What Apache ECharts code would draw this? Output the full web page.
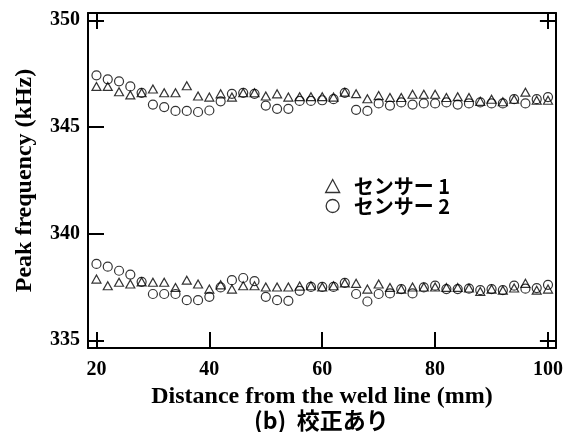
<!DOCTYPE html>
<html>
<head>
<meta charset="utf-8">
<script src="https://cdn.jsdelivr.net/npm/echarts@6/dist/echarts.min.js"></script>
<style>
  html, body { margin: 0; padding: 0; background: #fff; }
  #chart { width: 566px; height: 432px; }
</style>
</head>
<body>
<div id="chart"></div>
<script>
// Distance from the weld line (mm)
const distance = [20, 22, 24, 26, 28, 30, 32, 34, 36, 38, 40, 42, 44, 46, 48, 50, 52, 54, 56, 58,
  60, 62, 64, 66, 68, 70, 72, 74, 76, 78, 80, 82, 84, 86, 88, 90, 92, 94, 96, 98, 100];

// Sensor 1, upper and lower peak frequency (kHz)
const sensor1Upper = [346.90, 346.90, 346.65, 346.50, 346.60, 346.78, 346.60, 346.60, 346.93, 346.45,
  346.40, 346.55, 346.40, 346.60, 346.60, 346.45, 346.55, 346.40, 346.42, 346.42,
  346.42, 346.40, 346.63, 346.56, 346.32, 346.47, 346.38, 346.38, 346.53, 346.53,
  346.53, 346.38, 346.42, 346.38, 346.20, 346.30, 346.18, 346.30, 346.63, 346.25, 346.25];
const sensor1Lower = [337.87, 337.56, 337.72, 337.64, 337.74, 337.72, 337.72, 337.48, 337.82, 337.64,
  337.40, 337.60, 337.40, 337.56, 337.56, 337.50, 337.50, 337.50, 337.54, 337.56,
  337.50, 337.56, 337.69, 337.67, 337.40, 337.64, 337.48, 337.40, 337.50, 337.50,
  337.50, 337.48, 337.48, 337.45, 337.29, 337.40, 337.35, 337.45, 337.67, 337.35, 337.40];

// Sensor 2, upper and lower peak frequency (kHz)
const sensor2Upper = [347.42, 347.23, 347.14, 346.90, 346.60, 346.05, 345.93, 345.75, 345.75, 345.70,
  345.77, 346.20, 346.55, 346.60, 346.55, 346.00, 345.85, 345.85, 346.22, 346.22,
  346.25, 346.30, 346.60, 345.80, 345.75, 346.10, 346.00, 346.15, 346.05, 346.10,
  346.10, 346.15, 346.05, 346.10, 346.15, 346.10, 346.10, 346.30, 346.10, 346.30, 346.40];
const sensor2Lower = [338.58, 338.45, 338.26, 338.08, 337.74, 337.17, 337.17, 337.17, 336.88, 336.88,
  337.04, 337.48, 337.82, 337.92, 337.77, 337.04, 336.88, 336.85, 337.32, 337.50,
  337.50, 337.50, 337.69, 337.17, 336.82, 337.17, 337.20, 337.40, 337.20, 337.48,
  337.56, 337.40, 337.40, 337.42, 337.35, 337.40, 337.35, 337.56, 337.42, 337.45, 337.60];

// Tick values
const xTicks = [20, 40, 60, 80, 100];
const xTicksTop = [20, 100];
const yTicks = [335, 340, 345, 350];
const yTicksRight = [335, 350];

const seriesNames = ['センサー 1', 'センサー 2'];

const serif = '"Liberation Serif", "Times New Roman", serif';
const gothic = '"Noto Sans CJK JP", sans-serif';

function pairs(ys) {
  return distance.map((d, i) => [d, ys[i]]);
}

const hollow = { color: 'rgba(0,0,0,0)', borderColor: '#000', borderWidth: 1.2 };

function scatter(name, ys, symbol, size) {
  return {
    type: 'scatter',
    name: name,
    xAxisIndex: 0,
    yAxisIndex: 0,
    symbol: symbol,
    symbolSize: size,
    itemStyle: hollow,
    emphasis: { disabled: true },
    data: pairs(ys)
  };
}

const axisLine = { show: true, onZero: false, lineStyle: { color: '#000', width: 2 } };
const tickStyle = { color: '#000', width: 2 };
const legendIcon = { color: 'rgba(0,0,0,0)', borderColor: '#000', borderWidth: 1.3 };

const chart = echarts.init(document.getElementById('chart'), null, { renderer: 'canvas' });
chart.setOption({
  animation: false,
  backgroundColor: '#fff',
  grid: { left: 88, right: 8, top: 13, bottom: 84, containLabel: false },
  legend: {
    orient: 'vertical',
    left: 320,
    top: 171,
    itemWidth: 14,
    itemHeight: 13,
    itemGap: 0,
    selectedMode: false,
    data: [
      { name: seriesNames[0], icon: 'triangle', itemStyle: legendIcon },
      { name: seriesNames[1], icon: 'circle', itemStyle: legendIcon }
    ],
    textStyle: {
      fontFamily: gothic, fontWeight: 'bold', fontSize: 20, color: '#000',
      lineHeight: 19, padding: [0, 0, 0, 9]
    }
  },
  title: {
    text: '(b)  校正あり',
    left: 254,
    top: 409,
    padding: 0,
    textStyle: { fontFamily: gothic, fontWeight: 'bold', fontSize: 23, color: '#000' }
  },
  xAxis: [
    {
      type: 'value', position: 'bottom', min: 18.5, max: 101.4,
      name: 'Distance from the weld line (mm)',
      nameLocation: 'middle', nameGap: 37,
      nameTextStyle: { fontFamily: serif, fontWeight: 'bold', fontSize: 24, color: '#000' },
      axisLine: axisLine,
      axisTick: { show: true, inside: true, length: 16, lineStyle: tickStyle, customValues: xTicks },
      axisLabel: { show: true, margin: 12, fontFamily: serif, fontWeight: 'bold', fontSize: 20, color: '#000', customValues: xTicks },
      splitLine: { show: false }
    },
    {
      type: 'value', position: 'top', min: 18.5, max: 101.4,
      axisLine: axisLine,
      axisTick: { show: true, inside: true, length: 16, lineStyle: tickStyle, customValues: xTicksTop },
      axisLabel: { show: false },
      splitLine: { show: false }
    }
  ],
  yAxis: [
    {
      type: 'value', position: 'left', min: 334.64, max: 350.34,
      name: 'Peak frequency (kHz)',
      nameLocation: 'middle', nameGap: 51, nameRotate: 90,
      nameTextStyle: { fontFamily: serif, fontWeight: 'bold', fontSize: 24, color: '#000' },
      axisLine: axisLine,
      axisTick: { show: true, inside: true, length: 16, lineStyle: tickStyle, customValues: yTicks },
      axisLabel: { show: true, margin: 8, fontFamily: serif, fontWeight: 'bold', fontSize: 20, color: '#000', customValues: yTicks },
      splitLine: { show: false }
    },
    {
      type: 'value', position: 'right', min: 334.64, max: 350.34,
      axisLine: axisLine,
      axisTick: { show: true, inside: true, length: 16, lineStyle: tickStyle, customValues: yTicksRight },
      axisLabel: { show: false },
      splitLine: { show: false }
    }
  ],
  series: [
    scatter(seriesNames[0], sensor1Upper, 'triangle', [9, 8]),
    scatter(seriesNames[0], sensor1Lower, 'triangle', [9, 8]),
    scatter(seriesNames[1], sensor2Upper, 'circle', 9),
    scatter(seriesNames[1], sensor2Lower, 'circle', 9)
  ]
});
</script>
</body>
</html>
